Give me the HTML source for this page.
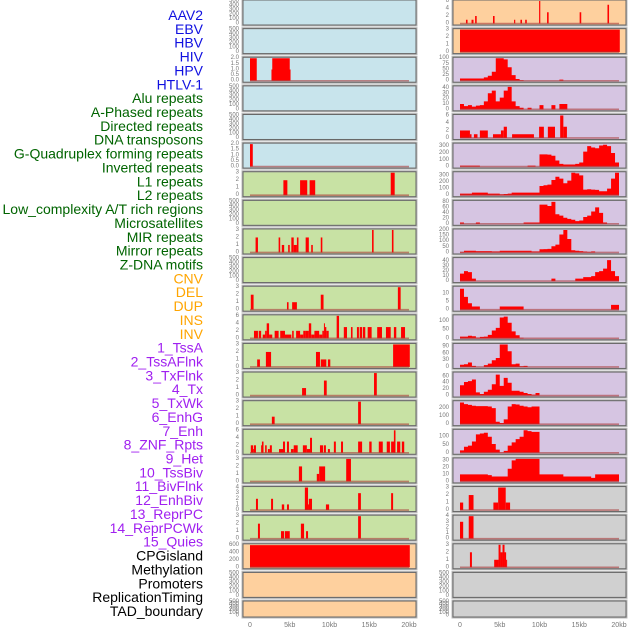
<!DOCTYPE html>
<html><head><meta charset="utf-8"><style>
html,body{margin:0;padding:0;background:#fff;}
svg{display:block;font-family:"Liberation Sans",sans-serif;}
</style></head><body>
<svg id="chart" width="630" height="630" viewBox="0 0 630 630" xmlns="http://www.w3.org/2000/svg"></svg>
<script>
const labels=["AAV2","EBV","HBV","HIV","HPV","HTLV-1","Alu repeats","A-Phased repeats","Directed repeats","DNA transposons","G-Quadruplex forming repeats","Inverted repeats","L1 repeats","L2 repeats","Low_complexity A/T rich regions","Microsatellites","MIR repeats","Mirror repeats","Z-DNA motifs","CNV","DEL","DUP","INS","INV","1_TssA","2_TssAFlnk","3_TxFlnk","4_Tx","5_TxWk","6_EnhG","7_Enh","8_ZNF_Rpts","9_Het","10_TssBiv","11_BivFlnk","12_EnhBiv","13_ReprPC","14_ReprPCWk","15_Quies","CPGisland","Methylation","Promoters","ReplicationTiming","TAD_boundary"];
const xTickLabels=["0","5kb","10kb","15kb","20kb"];
const xTickValues=[0,5,10,15,20];
// left column segments [startKb,endKb,value]
const L0=[],L1=[],L3=[],L4=[],L7=[],L9=[],L20=[],L21=[];
const L2=[[0,0.85,2],[2.7,5.1,1],[2.8,5.0,2]];
const L5=[[0,0.35,2]];
const L6=[[4.2,4.7,2],[6.3,7.2,2],[7.5,8.2,2],[17.7,18.2,3]];
const L8=[[0.7,1.0,2],[3.6,3.8,2],[4.0,4.3,1],[4.8,5.0,1],[5.2,5.5,2],[5.5,5.9,1],[5.9,6.1,2],[7.0,7.4,2],[7.7,7.9,1],[8.9,9.1,2],[15.35,15.55,3],[17.85,18.05,3]];
const L10=[[0.1,0.45,2],[4.65,4.85,1],[5.3,5.9,1],[8.9,9.25,2],[18.6,18.95,3]];
const L11=[[0.5,1.0,2],[1.1,1.4,2],[1.6,1.9,1],[1.9,2.1,2],[2.1,2.4,4],[2.4,2.8,1],[3.1,3.6,2],[3.8,4.4,2],[4.4,5.2,1],[5.3,5.5,2],[5.8,6.3,2],[6.3,6.7,1],[6.7,7.0,2],[7.0,7.4,2],[7.4,7.7,4],[7.7,8.1,1],[8.1,8.7,2],[8.7,9.1,1],[9.1,9.3,2],[9.3,9.4,4],[9.4,9.6,3],[9.6,9.9,2],[10.9,11.2,6],[11.8,12.2,3],[12.7,12.9,3],[13.45,13.7,3],[13.8,14.1,3],[14.2,14.5,3],[14.8,15.3,3],[16.0,16.6,3],[17.1,17.7,3],[18.1,18.4,3],[19.0,19.5,3]];
const L12=[[0.9,1.25,1],[2.0,2.65,2],[8.3,8.8,2],[8.9,9.6,1],[9.8,10.1,1],[18.0,20.1,3]];
const L13=[[6.55,7.05,1],[9.3,9.65,2],[15.6,15.95,3]];
const L14=[[2.75,3.1,1],[13.6,13.95,3]];
const L15=[[0.1,0.4,2],[0.4,0.7,1],[0.5,0.75,2],[1.4,1.65,2],[1.5,1.7,3],[1.9,2.1,2],[2.25,2.5,1],[2.5,2.75,2],[3.65,4.15,1],[4.15,4.4,3],[4.65,4.9,3],[5.15,5.5,1],[5.5,6.0,2],[6.65,7.15,2],[7.15,7.55,1],[7.55,7.8,4],[8.8,9.2,2],[9.3,9.55,2],[9.8,10.05,1],[10.55,10.8,3],[11.45,11.7,3],[13.6,14.1,3],[15.0,15.3,3],[16.2,16.7,3],[17.2,17.6,3],[17.75,18.25,3],[18.1,18.3,6],[18.5,18.9,3],[19.1,19.4,3]];
const L16=[[6.15,6.55,2],[8.4,8.7,1],[8.7,9.45,2],[12.1,12.7,3]];
const L17=[[0.75,1.0,2],[2.65,2.9,2],[4.0,4.3,1],[4.65,4.9,1],[6.9,7.3,4],[7.3,7.55,1],[7.4,7.8,2],[9.55,9.95,1],[13.6,13.95,3],[17.75,18.0,3]];
const L18=[[1.0,1.25,2],[3.9,4.3,1],[4.4,5.0,1],[6.4,6.8,2],[7.05,7.3,1],[13.6,13.95,3]];
const L19=[[0,20.1,590]];
// right column
const R0=[[0.75,0.95,1],[1.45,1.7,1],[1.9,2.1,2],[4.15,4.35,2],[6.8,6.95,1],[7.6,7.8,1],[8.2,8.4,1],[9.95,10.1,6],[10.95,11.15,3],[15.05,15.25,3],[18.55,18.75,5]];
const R1=[[0,20.1,3]];
const R4=[[0,1.25,2],[1.25,1.45,1],[1.75,2.2,1],[2.5,3.5,2],[4.15,5.15,1],[5.15,5.5,2],[5.5,5.9,3],[6.55,9.3,1],[9.95,10.55,3],[11.05,11.95,3],[12.6,13.0,6],[13.0,13.45,3]];
const R17=[[0,0.4,1],[1.1,1.7,2],[4.2,4.8,1],[4.8,5.75,3],[5.75,6.3,1]];
const R18=[[0,0.4,3],[1.1,1.7,4]];
const R19=[[1.25,1.5,2],[4.3,4.85,1],[4.85,5.1,3],[5.1,5.35,2],[5.35,5.6,3],[5.6,5.8,2],[5.8,5.9,1]];
const R20=[],R21=[];
// right column binned profiles (0.5kb bins)
const R2=[10,10,10,10,10,10,15,22,40,100,100,95,60,25,8,3,0,0,0,0,0,0,0,0,0,5,0,0,0,0,0,0,0,0,0,0,0,0,0,0];
const R3=[10,6,8,5,7,8,15,30,35,15,22,35,42,15,6,3,0,3,0,0,8,0,0,8,0,10,10,0,0,0,0,0,0,0,0,0,0,0,0,0];
const R5=[15,15,15,15,15,0,0,0,0,0,0,0,0,0,0,0,0,15,15,0,180,180,175,160,90,40,30,30,30,40,60,220,300,280,270,310,320,300,200,60];
const R6=[25,25,25,40,40,40,40,25,25,25,15,18,25,40,40,40,40,40,40,40,140,150,160,230,280,250,180,220,340,330,300,85,90,85,80,60,60,100,250,350];
const R7=[5,0,0,0,5,0,0,0,0,0,0,0,0,0,0,0,5,5,5,5,70,70,65,80,35,30,22,18,15,10,12,25,30,45,60,40,5,0,0,0];
const R8=[5,15,15,15,12,12,12,12,10,10,15,15,15,15,15,15,15,15,10,10,28,30,32,55,70,160,200,120,20,15,12,8,5,10,0,0,0,0,0,0];
const R9=[15,20,18,5,0,0,0,0,0,0,0,0,0,0,0,0,0,0,0,0,0,0,0,5,0,0,0,0,0,5,5,8,8,10,18,20,25,42,20,10];
const R10=[13,8,4,2,2,0,0,0,0,0,2,2,2,2,2,2,0,0,0,0,0,0,0,0,0,0,0,0,0,0,0,0,0,0,0,0,0,0,3,3];
const R11=[10,10,15,12,5,8,10,20,45,60,120,125,90,40,18,3,0,0,0,0,0,0,0,0,0,0,0,0,0,0,0,0,0,0,0,0,0,0,0,0];
const R12=[10,12,20,5,0,0,8,15,30,40,110,110,70,12,15,3,5,0,0,0,0,0,0,0,0,0,0,0,0,0,0,0,0,0,0,0,0,0,0,0];
const R13=[32,42,45,50,10,5,12,18,35,65,30,55,40,15,15,12,8,5,3,8,0,0,0,0,0,0,0,0,0,0,0,0,0,0,0,0,0,0,0,0];
const R14=[270,250,240,230,225,225,225,220,200,30,15,60,220,250,245,230,220,210,220,220,0,0,0,0,0,0,0,0,0,0,0,0,0,0,0,0,0,0,0,0];
const R15=[15,38,45,70,115,120,125,100,55,20,3,12,45,65,85,100,140,135,130,130,0,0,0,0,0,0,0,0,0,0,0,0,0,0,0,0,0,0,0,0];
const R16=[10,10,10,10,10,10,10,9,7,7,7,7,18,30,32,32,32,32,32,32,10,10,10,10,10,10,7,7,7,7,7,7,7,5,10,10,10,10,10,10];
// y axis max and tick labels
const leftYMax=[500,500,2,500,500,2,3,500,3,500,3,6,3,3,3,6,3,4,3,600,500,500];
const rightYMax=[6,3,100,42,6,330,340,82,200,45,14,130,100,70,280,140,32,3,4,3,500,500];
const leftTicks=[[0,100,200,300,400,500],[0,100,200,300,400,500],["0.0","0.5","1.0","1.5","2.0"],[0,100,200,300,400,500],[0,100,200,300,400,500],["0.0","0.5","1.0","1.5","2.0"],[0,1,2,3],[0,100,200,300,400,500],[0,1,2,3],[0,100,200,300,400,500],[0,1,2,3],[0,2,4,6],[0,1,2,3],[0,1,2,3],[0,1,2,3],[0,2,4,6],[0,1,2,3],[0,1,2,3,4],[0,1,2,3],[0,200,400,600],[0,100,200,300,400,500],[0,100,200,300,400,500]];
const rightTicks=[[0,2,4,6],[0,1,2,3],[0,25,50,75,100],[0,10,20,30,40],[0,2,4,6],[0,100,200,300],[0,100,200,300],[0,20,40,60,80],[0,50,100,150,200],[0,10,20,30,40],[0,5,10],[0,50,100],[0,30,60,90],[0,20,40,60],[0,100,200],[0,50,100],[0,10,20,30],[0,1,2,3],[0,1,2,3,4],[0,1,2,3],[0,100,200,300,400,500],[0,100,200,300,400,500]];

const leftSegs=[L0,L1,L2,L3,L4,L5,L6,L7,L8,L9,L10,L11,L12,L13,L14,L15,L16,L17,L18,L19,L20,L21];
const rightData=[R0,R1,R2,R3,R4,R5,R6,R7,R8,R9,R10,R11,R12,R13,R14,R15,R16,R17,R18,R19,R20,R21];
const svg=document.getElementById('chart');
const NS='http://www.w3.org/2000/svg';
function mk(tag,attrs,parent){const e=document.createElementNS(NS,tag);for(const k in attrs)e.setAttribute(k,attrs[k]);(parent||svg).appendChild(e);return e;}
function labelColor(i){if(i<6)return '#1010e0';if(i<19)return '#006400';if(i<24)return '#ffa500';if(i<39)return '#a020f0';return '#000';}
labels.forEach((t,i)=>{const e=mk('text',{x:203,y:15+i*13.86,'text-anchor':'end','dominant-baseline':'central','font-size':'14',fill:labelColor(i)});


e.textContent=t;});
function panelColor(side,i){if(side==='L'){if(i<6)return '#c8e4ec';if(i<19)return '#c8e2a4';return '#fed09e';}if(i<2)return '#fed09e';if(i<17)return '#d6c5e2';return '#d0d0d0';}
function panelTop(i){return i*28.62;}
function panelH(i){return i===21?16:25;}
function drawPanel(side,i){
 const px=side==='L'?243:453, x0=side==='L'?250:460, pw=173;
 const t=panelTop(i), h=panelH(i);
 const g=mk('g',{});
 
 
 const bg=mk('rect',{x:px-0.5,y:t-0.5,width:pw+1,height:h+1,fill:panelColor(side,i),stroke:'#bbb','stroke-width':'2'},g);
 
 
 const ymax=side==='L'?leftYMax[i]:rightYMax[i];
 const yb=t+h-1.5, yt=t+1;
 const xs=kb=>x0+kb*159/20;
 const ys=v=>yb-Math.min(v,ymax)/ymax*(yb-yt);
 let hasData=false;
 if(side==='L'||[0,1,4,17,18,19,20,21].includes(i)){
  const segs=side==='L'?leftSegs[i]:rightData[i];
  segs.forEach(s=>{hasData=true;const r=mk('rect',{x:xs(s[0]),y:ys(s[2]),width:Math.max(1,xs(s[1])-xs(s[0])),height:yb-ys(s[2]),fill:'#ff0000'},g);
   
   });
 } else {
  const bins=rightData[i];hasData=true;
  let d='M'+xs(0)+','+yb;
  bins.forEach((v,k)=>{d+=' L'+xs(k*0.5)+','+ys(v)+' L'+xs(k*0.5+0.5)+','+ys(v);});
  d+=' L'+xs(20)+','+yb+' Z';
  const p=mk('path',{d:d,fill:'#ff0000'},g);
  
  
 }
 if(hasData){const bl=mk('line',{x1:xs(0),x2:xs(20),y1:yb,y2:yb,stroke:'rgba(170,60,60,0.6)','stroke-width':'1.6'},g);
  
  }
 const fr=mk('rect',{x:px,y:t,width:pw,height:h,fill:'none',stroke:'#666','stroke-width':'1'},g);
 
 
 const ticks=side==='L'?leftTicks[i]:rightTicks[i];
 ticks.forEach(tk=>{const v=parseFloat(tk);const tx=mk('text',{x:px-4,y:ys(v),'text-anchor':'end','dominant-baseline':'central','font-size':'6',fill:'#777'},g);
  
  
  tx.textContent=tk;});
}
for(let i=0;i<22;i++){drawPanel('L',i);drawPanel('R',i);}
[250,460].forEach(x0=>{xTickValues.forEach((v,k)=>{const e=mk('text',{x:x0+v*159/20,y:627,'text-anchor':'middle','font-size':'7',fill:'#777'});
 
 
 e.textContent=xTickLabels[k];});});
</script>
</body></html>
